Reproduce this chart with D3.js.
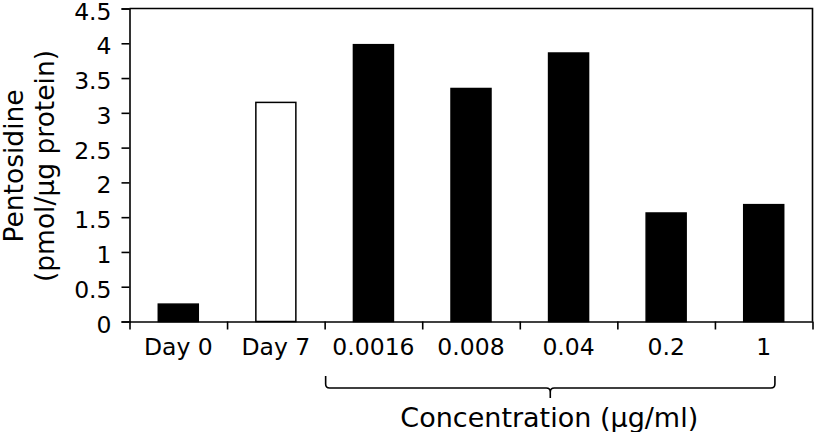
<!DOCTYPE html>
<html>
<head>
<meta charset="utf-8">
<script src="https://cdn.jsdelivr.net/npm/d3@7"></script>
<style>
  html, body { margin: 0; padding: 0; background: #fff; }
  svg { display: block; }
  text { font-family: Verdana, "DejaVu Sans", sans-serif; fill: #000; }
</style>
</head>
<body>
<svg id="chart" width="816" height="432"></svg>
<script>
// ---- data ----
const categories = ["Day 0", "Day 7", "0.0016", "0.008", "0.04", "0.2", "1"];
const values = [0.25, 3.15, 3.98, 3.35, 3.86, 1.56, 1.68];
const fills = ["black", "white", "black", "black", "black", "black", "black"];
const yTicks = [0, 0.5, 1, 1.5, 2, 2.5, 3, 3.5, 4, 4.5];
const yTickLabels = ["0", "0.5", "1", "1.5", "2", "2.5", "3", "3.5", "4", "4.5"];
const yTitle = ["Pentosidine", "(pmol/\u00b5g protein)"];
const groupLabel = "Concentration (\u00b5g/ml)";
const groupStart = "0.0016";
const groupEnd = "1";

// ---- layout ----
const svg = d3.select("#chart");
const pLeft = 129.5, pRight = 812.5, pTop = 8.5, pBottom = 321.5;

const x = d3.scaleBand().domain(categories).range([pLeft, pRight])
  .paddingInner(0.59).paddingOuter(0.295);
const xb = d3.scaleLinear().domain([0, categories.length]).range([pLeft, pRight]);
const y = d3.scaleLinear().domain([0, 4.5]).range([pBottom, pTop]);

// bars
svg.append("g").selectAll("rect").data(categories).join("rect")
  .attr("x", d => x(d))
  .attr("y", (d, i) => y(values[i]))
  .attr("width", x.bandwidth())
  .attr("height", (d, i) => y(0) - y(values[i]))
  .attr("fill", (d, i) => fills[i])
  .attr("stroke", "black")
  .attr("stroke-width", 1.5);

// frame (top and right)
svg.append("path")
  .attr("d", `M${pLeft},${pTop}H${pRight}V${pBottom}`)
  .attr("fill", "none").attr("stroke", "black").attr("stroke-width", 1.6);

// y axis
const yAxis = svg.append("g").attr("transform", `translate(${pLeft},0)`)
  .call(d3.axisLeft(y).tickValues(yTicks)
    .tickFormat((d, i) => yTickLabels[i]).tickSize(8).tickPadding(10));
yAxis.select(".domain").attr("stroke-width", 1.6);
yAxis.selectAll(".tick line").attr("stroke-width", 1.6);
yAxis.selectAll("text").style("font-size", "23.5px").attr("dy", "0.45em")
  .style("font-family", 'Verdana, "DejaVu Sans", sans-serif');

// x axis boundary ticks
const xTickAxis = svg.append("g").attr("transform", `translate(0,${pBottom})`)
  .call(d3.axisBottom(xb).tickValues(d3.range(categories.length + 1))
    .tickFormat("").tickSize(8).tickSizeOuter(0));
xTickAxis.select(".domain").attr("stroke-width", 1.6);
xTickAxis.selectAll(".tick line").attr("stroke-width", 1.6);

// x axis labels
const xLabelAxis = svg.append("g").attr("transform", `translate(0,${pBottom})`)
  .call(d3.axisBottom(x).tickSize(0).tickPadding(17));
xLabelAxis.select(".domain").remove();
xLabelAxis.selectAll("text").style("font-size", "23.5px")
  .style("font-family", 'Verdana, "DejaVu Sans", sans-serif');

// y axis title
const yt = svg.append("g").attr("transform", `translate(23,${(pTop + pBottom) / 2 + 1}) rotate(-90)`);
yt.selectAll("text").data(yTitle).join("text")
  .attr("x", 0).attr("y", (d, i) => i * 31)
  .attr("text-anchor", "middle")
  .style("font-size", "26.5px")
  .text(d => d);

// bracket (curly brace)
const bx0 = x(groupStart) - x.step() * x.paddingInner() / 2 + 1;
const bx1 = x(groupEnd) + x.bandwidth() * 0.78;
const bm = (bx0 + bx1) / 2;
const by0 = 376, by1 = 388, by2 = 398;
const p = d3.path();
p.moveTo(bx0, by0);
p.lineTo(bx0, by1 - 4);
p.quadraticCurveTo(bx0, by1, bx0 + 4, by1);
p.lineTo(bm - 4, by1);
p.quadraticCurveTo(bm, by1, bm, by1 + 4);
p.lineTo(bm, by2);
p.moveTo(bm, by1 + 4);
p.quadraticCurveTo(bm, by1, bm + 4, by1);
p.lineTo(bx1 - 4, by1);
p.quadraticCurveTo(bx1, by1, bx1, by1 - 4);
p.lineTo(bx1, by0);
svg.append("path").attr("d", p.toString())
  .attr("fill", "none").attr("stroke", "black").attr("stroke-width", 1.6);

svg.append("text")
  .attr("x", bm - 1).attr("y", 427)
  .attr("text-anchor", "middle")
  .style("font-size", "27px")
  .text(groupLabel);
</script>
</body>
</html>
